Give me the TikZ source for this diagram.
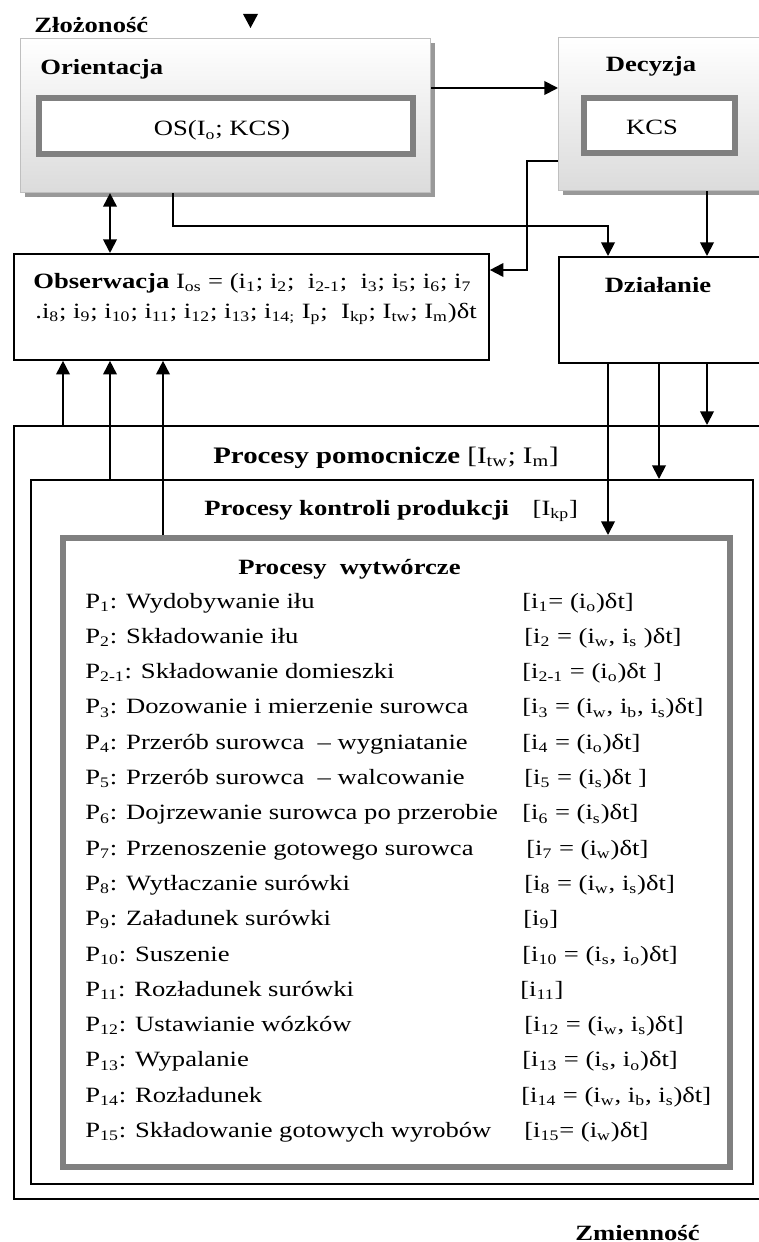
\documentclass[tikz,border=0pt]{standalone}
\usepackage{fontspec}
\setmainfont{Liberation Serif}[FakeStretch=1.22]
\usetikzlibrary{arrows.meta,shadows}

\newcommand\lo[1]{\textsubscript{#1}}

\tikzset{
  size/.style 2 args={minimum width=#1*0.55pt, minimum height=#2*0.55pt},
  arr/.style={draw, line width=1pt, -{Triangle[length=7.5pt,width=7.5pt]}},
  arrboth/.style={draw, line width=1pt, {Triangle[length=7.5pt,width=7.5pt]}-{Triangle[length=7.5pt,width=7.5pt]}},
  plainbox/.style={draw, line width=1pt, fill=white, inner sep=0pt, anchor=north west},
  greybox/.style={draw=black!50, line width=3.3pt, fill=white, inner sep=0pt, anchor=north west},
  panel/.style={draw=black!25, line width=0.6pt, top color=white, bottom color=black!14,
    inner sep=0pt, anchor=north west,
    drop shadow={shadow xshift=2.2pt, shadow yshift=-2.2pt, fill=black!40, opacity=1}},
  txt/.style={font=\fontsize{12}{14}\selectfont, inner sep=0pt, anchor=base west},
  head/.style={font=\fontsize{12}{14}\selectfont\bfseries, inner sep=0pt, anchor=base},
}

\begin{document}
\begin{tikzpicture}[x=0.55pt, y=-0.55pt]
  \useasboundingbox (0,0) rectangle (759,1242);
  \fill[white] (0,0) rectangle (759,1242);
  \clip (0,0) rectangle (759,1242);

  % upper boxes
  \node[panel, size={410}{154}] (orient) at (20,38) {};
  \node[panel, size={250}{153}] (dec) at (558,37) {};
  \node[greybox, size={374}{56}] (os) at (36,95) {};
  \node[greybox, size={151}{55}] (kcs) at (581,95) {};
  \node[plainbox, size={475}{106}] (obs) at (13,253) {};
  \node[plainbox, size={250}{106}] (dzial) at (558,256) {};

  % nested process boxes
  \node[plainbox, size={800}{773}] (pom) at (13,425) {};
  \node[plainbox, size={722}{704}] (kon) at (30,479) {};
  \node[greybox, size={667}{629}] (wyt) at (60,535) {};

  % labels of the upper part
  \node[txt, font=\fontsize{12}{14}\selectfont\bfseries] (zloz) at (34,33) {Złożoność};
  \fill (243,14) -- (258,14) -- (250.5,28) -- cycle;
  \node[txt, font=\fontsize{12}{14}\selectfont\bfseries] (orientlab) at (40,75) {Orientacja};
  \node[txt, anchor=base] (oslab) at (222,136) {OS(I\lo{o}; KCS)};
  \node[head] (declab) at (651,72) {Decyzja};
  \node[txt, anchor=base] (kcslab) at (652,135) {KCS};
  \node[txt] (obs1) at (33,288) {{\bfseries Obserwacja} I\lo{os} = (i\lo{1}; i\lo{2};\ \ i\lo{2-1};\ \ i\lo{3}; i\lo{5}; i\lo{6}; i\lo{7}};
  \node[txt] (obs2) at (35,318) {.i\lo{8}; i\lo{9}; i\lo{10}; i\lo{11}; i\lo{12}; i\lo{13}; i\lo{14;} I\lo{p};\ \ I\lo{kp}; I\lo{tw}; I\lo{m})δt};
  \node[head] (dziallab) at (658,292) {Działanie};

  % labels of the process boxes
  \node[txt, font=\fontsize{13}{15}\selectfont] (pomlab) at (213,463) {{\bfseries Procesy pomocnicze} [I\lo{tw}; I\lo{m}]};
  \node[txt] (konlab) at (204,515) {{\bfseries Procesy kontroli produkcji}\hspace{13pt}[I\lo{kp}]};
  \node[txt, font=\fontsize{12}{14}\selectfont\bfseries] (wytlab) at (238,574) {Procesy\ \ wytwórcze};

  \begin{scope}[every node/.style={txt}]
    \node (p1)  at (85,608)    {P\lo{1}: Wydobywanie iłu};
    \node (p2)  at (85,643.3)  {P\lo{2}: Składowanie iłu};
    \node (p21) at (85,678.6)  {P\lo{2-1}: Składowanie domieszki};
    \node (p3)  at (85,713.9)  {P\lo{3}: Dozowanie i mierzenie surowca};
    \node (p4)  at (85,749.2)  {P\lo{4}: Przerób surowca\ \ – wygniatanie};
    \node (p5)  at (85,784.5)  {P\lo{5}: Przerób surowca\ \ – walcowanie};
    \node (p6)  at (85,819.8)  {P\lo{6}: Dojrzewanie surowca po przerobie};
    \node (p7)  at (85,855.1)  {P\lo{7}: Przenoszenie gotowego surowca};
    \node (p8)  at (85,890.4)  {P\lo{8}: Wytłaczanie surówki};
    \node (p9)  at (85,925.7)  {P\lo{9}: Załadunek surówki};
    \node (p10) at (85,961)    {P\lo{10}: Suszenie};
    \node (p11) at (85,996.3)  {P\lo{11}: Rozładunek surówki};
    \node (p12) at (85,1031.6) {P\lo{12}: Ustawianie wózków};
    \node (p13) at (85,1066.9) {P\lo{13}: Wypalanie};
    \node (p14) at (85,1102.2) {P\lo{14}: Rozładunek};
    \node (p15) at (85,1137.5) {P\lo{15}: Składowanie gotowych wyrobów};

    \node (f1)  at (522,608)    {[i\lo{1}= (i\lo{o})δt]};
    \node (f2)  at (524,643.3)  {[i\lo{2} = (i\lo{w}, i\lo{s} )δt]};
    \node (f21) at (522,678.6)  {[i\lo{2-1} = (i\lo{o})δt ]};
    \node (f3)  at (522,713.9)  {[i\lo{3} = (i\lo{w}, i\lo{b}, i\lo{s})δt]};
    \node (f4)  at (522,749.2)  {[i\lo{4} = (i\lo{o})δt]};
    \node (f5)  at (524,784.5)  {[i\lo{5} = (i\lo{s})δt ]};
    \node (f6)  at (522,819.8)  {[i\lo{6} = (i\lo{s})δt]};
    \node (f7)  at (526,855.1)  {[i\lo{7} = (i\lo{w})δt]};
    \node (f8)  at (524,890.4)  {[i\lo{8} = (i\lo{w}, i\lo{s})δt]};
    \node (f9)  at (523,925.7)  {[i\lo{9}]};
    \node (f10) at (522,961)    {[i\lo{10} = (i\lo{s}, i\lo{o})δt]};
    \node (f11) at (520,996.3)  {[i\lo{11}]};
    \node (f12) at (524,1031.6) {[i\lo{12} = (i\lo{w}, i\lo{s})δt]};
    \node (f13) at (522,1066.9) {[i\lo{13} = (i\lo{s}, i\lo{o})δt]};
    \node (f14) at (521,1102.2) {[i\lo{14} = (i\lo{w}, i\lo{b}, i\lo{s})δt]};
    \node (f15) at (524,1137.5) {[i\lo{15}= (i\lo{w})δt]};
  \end{scope}

  \node[txt, font=\fontsize{12}{14}\selectfont\bfseries] (zmien) at (575,1240) {Zmienność};

  % connectors
  \coordinate (yo) at (0,88);
  \coordinate (xa) at (63,0);
  \coordinate (xb) at (110,0);
  \coordinate (xc) at (163,0);
  \coordinate (xd) at (659,0);
  \coordinate (xe) at (707,0);
  \coordinate (bendl) at (173,226);
  \coordinate (bendr) at (608,226);
  \coordinate (bendu) at (527,161);
  \coordinate (bendd) at (527,270);

  \draw[arr] (orient.east |- yo) -- (dec.west |- yo);
  \draw[arrboth] (orient.south -| xb) -- (obs.north -| xb);
  \draw[arr] (orient.south -| bendl) -- (bendl) -- (bendr) -- (dzial.north -| bendr);
  \draw[arr] (dec.west |- bendu) -- (bendu) -- (bendd) -- (obs.east |- bendd);
  \draw[arr] (dec.south -| xe) -- (dzial.north -| xe);
  \draw[arr] (dzial.south -| bendr) -- (wyt.north -| bendr);
  \draw[arr] (dzial.south -| xd) -- (kon.north -| xd);
  \draw[arr] (dzial.south -| xe) -- (pom.north -| xe);
  \draw[arr] (pom.north -| xa) -- (obs.south -| xa);
  \draw[arr] (kon.north -| xb) -- (obs.south -| xb);
  \draw[arr] (wyt.north -| xc) -- (obs.south -| xc);
\end{tikzpicture}
\end{document}
